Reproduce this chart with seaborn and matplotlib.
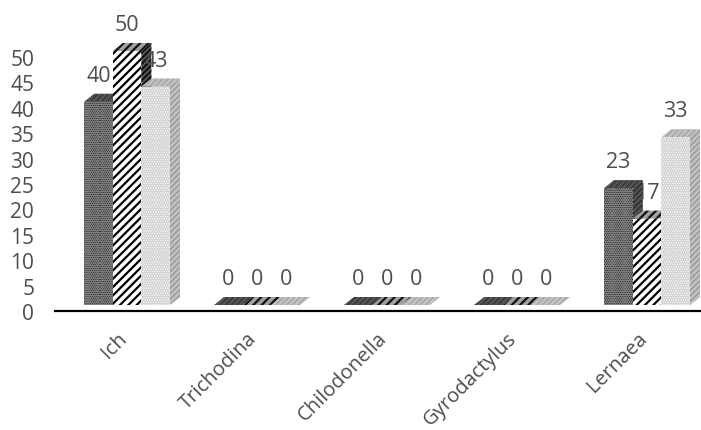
import matplotlib
matplotlib.use('Agg')
import matplotlib.pyplot as plt
import matplotlib.transforms as mtrans
from matplotlib.patches import Polygon
import pandas as pd
import seaborn as sns

categorias = ['Ich', 'Trichodina', 'Chilodonella', 'Gyrodactylus', 'Lernaea']
serie_1 = [40, 0, 0, 0, 23]
serie_2 = [50, 0, 0, 0, 17]
serie_3 = [43, 0, 0, 0, 33]
ticks_y = [0, 5, 10, 15, 20, 25, 30, 35, 40, 45, 50]

df = pd.DataFrame({'Parasita': categorias, 'S1': serie_1, 'S2': serie_2, 'S3': serie_3})
df = df.melt(id_vars='Parasita', var_name='Serie', value_name='Valor')

sns.set_style('white')
plt.rcParams['font.family'] = ['Open Sans', 'DejaVu Sans']
plt.rcParams['hatch.linewidth'] = 1.6

W, H = 701, 431
fig = plt.figure(figsize=(W / 100, H / 100), dpi=100)
ax = fig.add_axes([55 / W, (H - 306) / H, 646 / W, 306 / H])

sns.barplot(data=df, x='Parasita', y='Valor', hue='Serie', order=categorias,
            palette=['#3c3c3c', 'white', '#f4f4f4'], width=0.66, saturation=1,
            legend=False, ax=ax, linewidth=0)

ax.set_xlim(-0.554, 4.415)
ax.set_ylim(0, 60.24)

# estilo de cada serie: frente, topo, lado
estilos = [
    dict(face='#2a2a2a', hatch='.........', hc='#808080', top='#3a3a3a', side='#303030', hs='#555555', ht='//////'),
    dict(face='white', hatch='////', hc='black', top='#a0a0a0', side='#5c5c5c', hs='#111111', ht='////'),
    dict(face='#fcfcfc', hatch='.......', hc='#cccccc', top='#a8a8a8', side='#9c9c9c', hs='#c4c4c4', ht='//////'),
]
dx = 10 / 130
dy = 8 / 5.08

for i, (cont, st) in enumerate(zip(ax.containers, estilos)):
    for bar in cont:
        x0, w, h = bar.get_x(), bar.get_width(), bar.get_height()
        z = 3 + i * 3
        bar.set(facecolor=st['face'], hatch=st['hatch'], edgecolor=st['hc'], linewidth=0, zorder=z + 1)
        topo = Polygon([(x0, h), (x0 + w, h), (x0 + w + dx, h + dy), (x0 + dx, h + dy)],
                       facecolor=st['top'], edgecolor=st['hs'], hatch=st['ht'],
                       linewidth=0, zorder=z, clip_on=False)
        lado = Polygon([(x0 + w, 0), (x0 + w + dx, dy), (x0 + w + dx, h + dy), (x0 + w, h)],
                       facecolor=st['side'], edgecolor=st['hs'], hatch='//////',
                       linewidth=0, zorder=z, clip_on=False)
        ax.add_patch(topo)
        ax.add_patch(lado)
        # o rotulo 17 fica atras da barra vizinha
        ax.annotate(f'{int(h)}', (x0 + w / 2, h), xytext=(0, 19), textcoords='offset points',
                    ha='center', va='center', fontsize=15.5, color='#4d4d4d',
                    zorder=2 if h == 17 else 20)

for s in ['top', 'right', 'left']:
    ax.spines[s].set_visible(False)
ax.spines['bottom'].set_position(('outward', 4.3))
ax.spines['bottom'].set_color('black')
ax.spines['bottom'].set_linewidth(1.6)
ax.patch.set_alpha(0)

ax.set_xlabel('')
ax.set_ylabel('')
ax.set_yticks(ticks_y)
ax.tick_params(axis='both', length=0)
ax.tick_params(axis='y', labelsize=15, labelcolor='#4d4d4d', pad=15)
ax.tick_params(axis='x', labelsize=14.5, labelcolor='#4d4d4d', pad=17)
ax.set_xticks(range(len(categorias)))
ax.set_xticklabels(categorias, rotation=45, ha='right', va='center', rotation_mode='anchor')

# os numeros do eixo acompanham a linha de base, 6 px abaixo das barras
desce = mtrans.ScaledTranslation(0, -6 / 100, fig.dpi_scale_trans)
for lab in ax.get_yticklabels():
    lab.set_transform(lab.get_transform() + desce)
esquerda = mtrans.ScaledTranslation(-3 / 100, 0, fig.dpi_scale_trans)
for lab in ax.get_xticklabels():
    lab.set_transform(lab.get_transform() + esquerda)

fig.savefig('out.png', dpi=100)
